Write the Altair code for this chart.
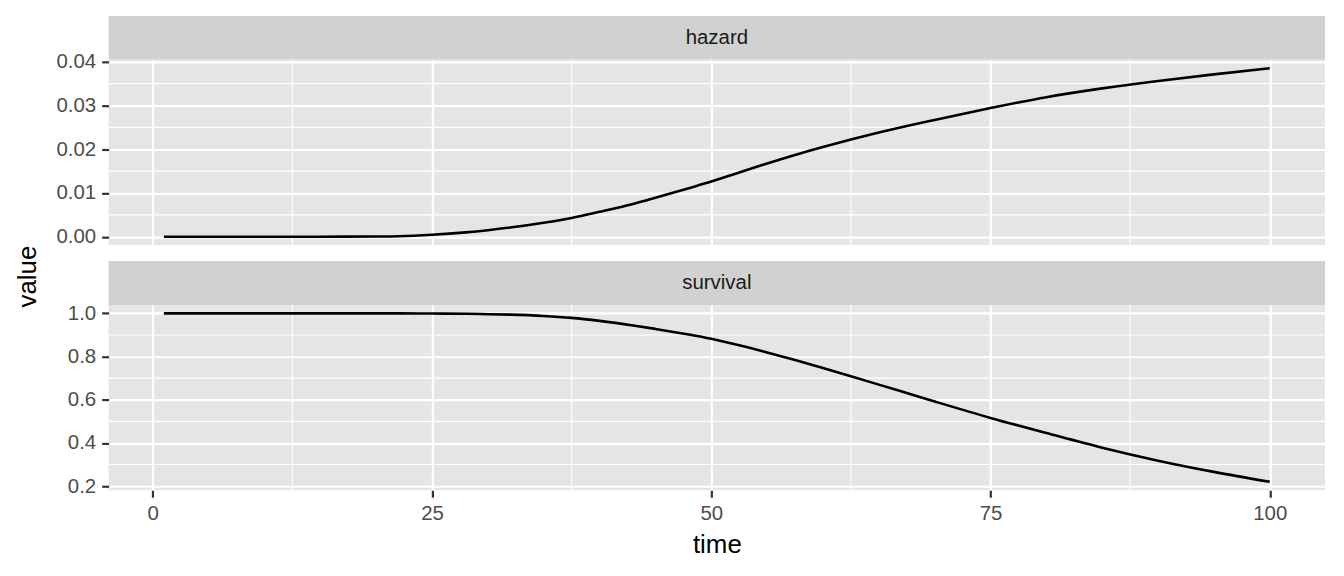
import altair as alt
import pandas as pd

# ---- data ----
time = [1, 5, 10, 15, 20, 22, 25, 28, 30, 32, 35, 37.5, 40, 43, 45, 48, 50,
        52.5, 55, 57.5, 60, 62.5, 65, 67.5, 70, 75, 80, 85, 90, 95, 100]
hazard = [0.0, 0.0, 0.0, 0.00001, 0.00006, 0.00012, 0.00045, 0.0010, 0.0015,
          0.0021, 0.0032, 0.0043, 0.0057, 0.0075, 0.0089, 0.0111, 0.0126,
          0.0147, 0.01675, 0.0187, 0.0205, 0.0222, 0.0238, 0.0253, 0.0267,
          0.0294, 0.0319, 0.0339, 0.0356, 0.0371, 0.0385]
survival = [1.0, 1.0, 1.0, 1.0, 1.0, 1.0, 0.999, 0.998, 0.996, 0.994, 0.988,
            0.979, 0.965, 0.944, 0.928, 0.902, 0.882, 0.852, 0.819, 0.784,
            0.747, 0.709, 0.670, 0.631, 0.592, 0.516, 0.446, 0.378, 0.318,
            0.266, 0.220]

x_ticks = [0, 25, 50, 75, 100]
x_minor = [12.5, 37.5, 62.5, 87.5]
haz_ticks = [0.00, 0.01, 0.02, 0.03, 0.04]
haz_minor = [0.005, 0.015, 0.025, 0.035]
surv_ticks = [0.2, 0.4, 0.6, 0.8, 1.0]
surv_minor = [0.3, 0.5, 0.7, 0.9]

W = 1221
PH = 186
SH = 44
GAP = 16

FONT = "Liberation Sans"
x_dom = [-3.95, 104.95]
haz_dom = [-0.001925, 0.040425]
surv_dom = [0.181, 1.039]

haz_df = pd.DataFrame({"time": time, "value": hazard})
surv_df = pd.DataFrame({"time": time, "value": survival})


def strip(label, gap):
    df = pd.DataFrame({"label": [label]})
    base = alt.Chart(df)
    rect = base.mark_rect(color="#D1D1D1").encode(
        x=alt.value(0), x2=alt.value(W), y=alt.value(gap), y2=alt.value(gap + SH)
    )
    txt = base.mark_text(font=FONT, fontSize=20.5, color="#1A1A1A",
                         baseline="middle", align="center").encode(
        x=alt.value(W / 2), y=alt.value(gap + SH / 2), text="label:N"
    )
    return alt.layer(rect, txt).properties(
        width=W, height=gap + SH,
        view=alt.ViewBackground(fill="white", strokeWidth=0),
    )


def panel(df, y_dom, y_ticks, y_minor, fmt, show_x, y_title):
    xs = alt.Scale(domain=x_dom, nice=False, zero=False)
    ys = alt.Scale(domain=y_dom, nice=False, zero=False)
    if show_x:
        x_axis = alt.Axis(values=x_ticks, title="time", grid=True)
    else:
        x_axis = alt.Axis(values=x_ticks, title=None, labels=False, ticks=False,
                          domain=False, grid=True)
    if y_title:
        y_axis = alt.Axis(values=y_ticks, format=fmt, title="value", grid=True,
                          titleY=-29, titleX=-73, titleBaseline="alphabetic",
                          titleAngle=270)
    else:
        y_axis = alt.Axis(values=y_ticks, format=fmt, title=None, grid=True)

    vmin = alt.Chart(pd.DataFrame({"t": x_minor})).mark_rule(
        color="white", strokeWidth=1.1).encode(x=alt.X("t:Q", scale=xs, axis=x_axis))
    hmin = alt.Chart(pd.DataFrame({"v": y_minor})).mark_rule(
        color="white", strokeWidth=1.1).encode(y=alt.Y("v:Q", scale=ys, axis=y_axis))
    line = alt.Chart(df).mark_line(color="black", strokeWidth=2.6, clip=True,
                                   interpolate="monotone").encode(
        x=alt.X("time:Q", scale=xs, axis=x_axis),
        y=alt.Y("value:Q", scale=ys, axis=y_axis),
    )
    return alt.layer(vmin, hmin, line).properties(
        width=W, height=PH,
        view=alt.ViewBackground(fill="#E5E5E5", strokeWidth=0),
    )


chart = alt.vconcat(
    strip("hazard", 0),
    panel(haz_df, haz_dom, haz_ticks, haz_minor, ".2f", False, False),
    strip("survival", GAP),
    panel(surv_df, surv_dom, surv_ticks, surv_minor, ".1f", True, True),
    spacing=0, bounds="flush",
).properties(
    padding={"left": 7, "top": 7, "right": 10, "bottom": 5}
).configure_view(
    strokeWidth=0
).configure_axis(
    gridColor="white", gridWidth=2.2, domain=False,
    tickColor="#333333", tickSize=7, tickWidth=2.2,
    labelFont=FONT, labelFontSize=20.5, labelColor="#4D4D4D", labelPadding=6,
    titleFont=FONT, titleFontSize=26, titleColor="black", titleFontWeight="normal",
).configure_axisX(
    titlePadding=8,
)

chart.save("out.html", embed_options={"renderer": "svg", "actions": False})
